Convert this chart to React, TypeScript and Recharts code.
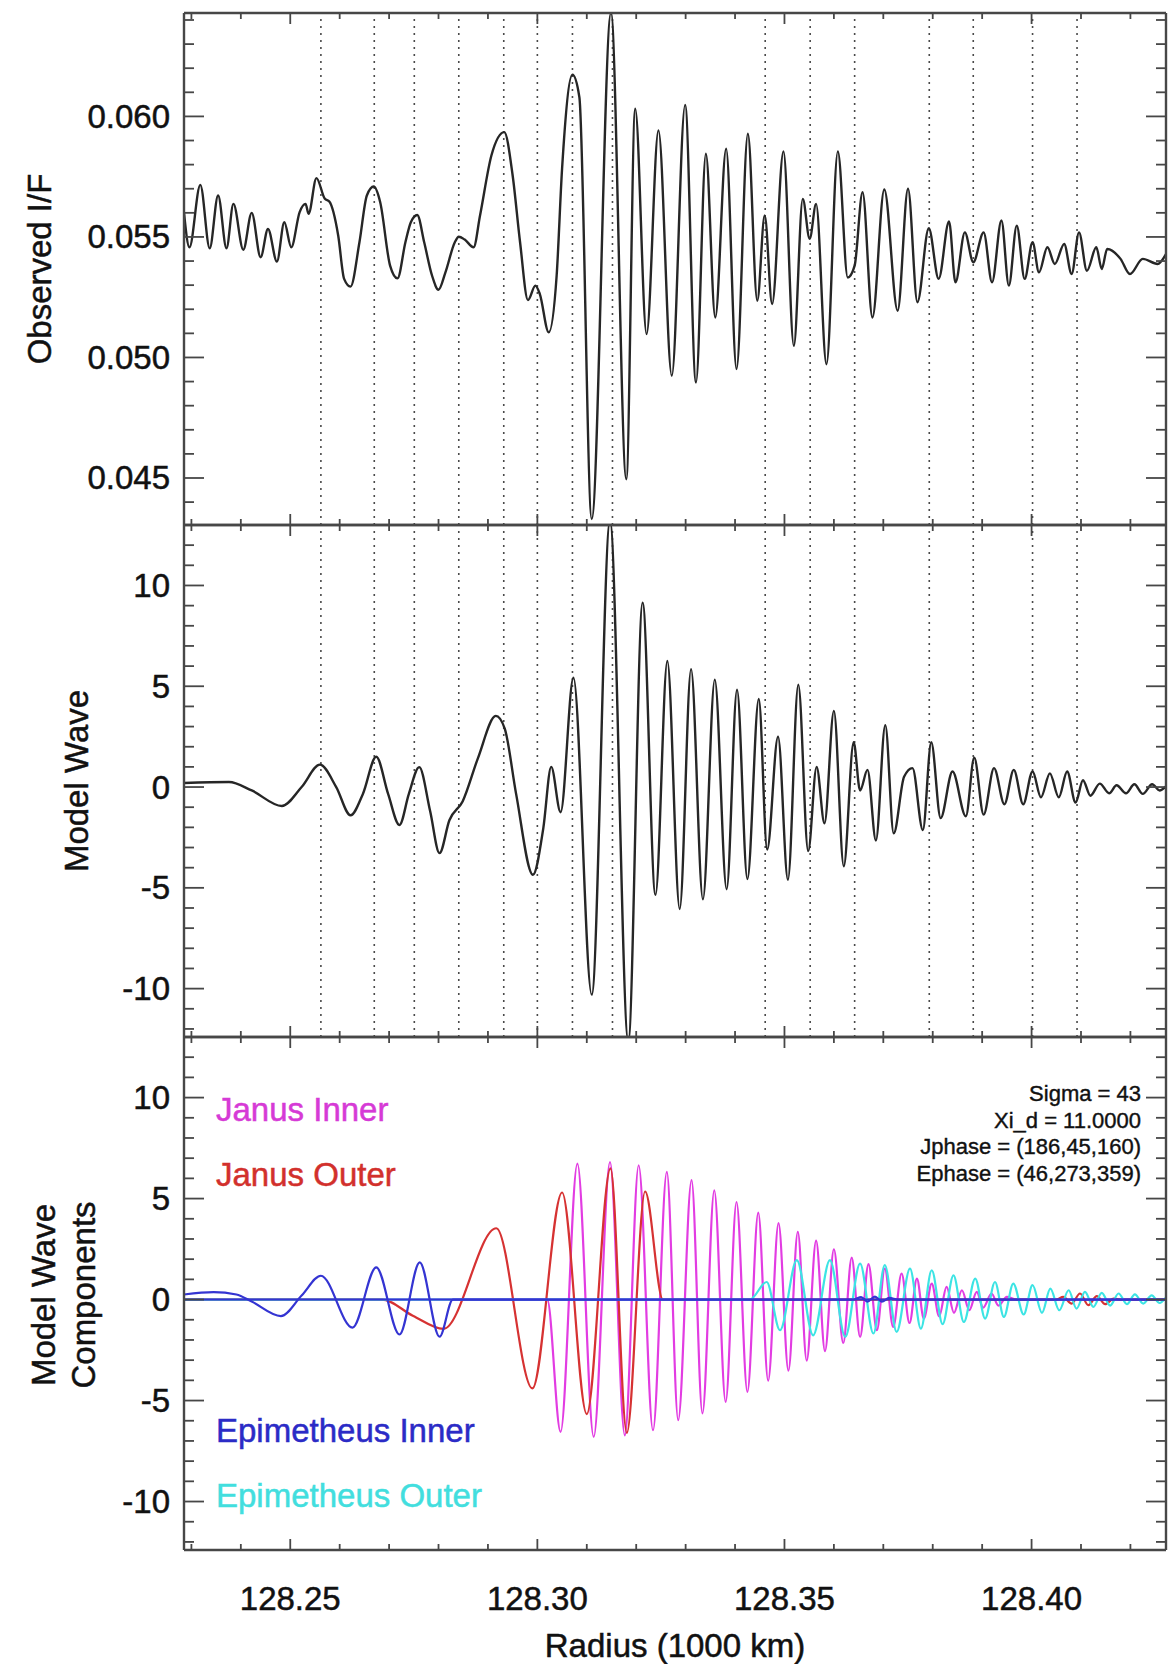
import React from 'react';
import { LineChart, Line, XAxis, YAxis, ReferenceLine } from 'recharts';

type Pt = [number, number];

const W = 1168;
const H = 1664;
const PLOT_LEFT = 184;
const PLOT_RIGHT = 1166;
const FONT = '"Liberation Sans", Arial, Helvetica, sans-serif';
const FRAME = '#474747';

// radius axis (1000 km)
const radiusDomain = [128.2285, 128.4272];
const radiusMajor = [128.25, 128.3, 128.35, 128.4];
const radiusTicks = [
  128.23, 128.24, 128.25, 128.26, 128.27, 128.28, 128.29, 128.3, 128.31, 128.32,
  128.33, 128.34, 128.35, 128.36, 128.37, 128.38, 128.39, 128.4, 128.41, 128.42,
];

// observed I/F axis
const ifDomain = [0.04305, 0.06429];
const ifMajor = [0.045, 0.05, 0.055, 0.06];
const ifTicks = [
  0.044, 0.045, 0.046, 0.047, 0.048, 0.049, 0.05, 0.051, 0.052, 0.053, 0.054,
  0.055, 0.056, 0.057, 0.058, 0.059, 0.06, 0.061, 0.062, 0.063, 0.064,
];

// model wave axes
const waveDomain = [-12.4, 13];
const waveMajor = [-10, -5, 0, 5, 10];
const waveTicks = [
  -12, -11, -10, -9, -8, -7, -6, -5, -4, -3, -2, -1, 0, 1, 2, 3, 4, 5, 6, 7, 8, 9, 10, 11, 12, 13,
];

// dotted guide radii shared by the upper two panels
const guideRadii = [
  128.2562, 128.267, 128.2751, 128.2841, 128.2932, 128.3, 128.3071, 128.3152,
  128.3461, 128.3552, 128.3642, 128.3793, 128.3882, 128.4002, 128.4092,
];

const observedIF: Pt[] = [
  [128.2285, 0.056], [128.2296, 0.05457], [128.2318, 0.05716], [128.2337, 0.05453],
  [128.2354, 0.05672], [128.2371, 0.05453], [128.2385, 0.05637], [128.2405, 0.05447],
  [128.2422, 0.056], [128.244, 0.05416], [128.2455, 0.05533], [128.2473, 0.05398],
  [128.2488, 0.05561], [128.2502, 0.05457], [128.2519, 0.05603], [128.2531, 0.05637],
  [128.2537, 0.05596], [128.2553, 0.05744], [128.257, 0.05658], [128.2579, 0.05647],
  [128.2597, 0.05506], [128.2609, 0.05326], [128.2622, 0.05294], [128.264, 0.05478],
  [128.2655, 0.05672], [128.2669, 0.05709], [128.2682, 0.05644], [128.2702, 0.05381],
  [128.2717, 0.05328], [128.2733, 0.05478], [128.2744, 0.05561], [128.2757, 0.05591],
  [128.2771, 0.05478], [128.2787, 0.05339], [128.28, 0.05281], [128.2814, 0.05353],
  [128.2833, 0.05478], [128.2841, 0.05501], [128.2853, 0.05489], [128.2871, 0.05457],
  [128.2884, 0.05589], [128.2907, 0.05838], [128.2933, 0.05935], [128.295, 0.05755],
  [128.2965, 0.05478], [128.2981, 0.05238], [128.2996, 0.05298], [128.3005, 0.05263],
  [128.3023, 0.05104], [128.3039, 0.05339], [128.305, 0.05783], [128.3071, 0.06173],
  [128.3085, 0.0608], [128.311, 0.0433], [128.3149, 0.0643], [128.318, 0.04495],
  [128.3198, 0.06032], [128.3221, 0.05097], [128.3245, 0.05942], [128.3272, 0.04924],
  [128.3299, 0.06048], [128.3321, 0.04896], [128.3341, 0.05845], [128.336, 0.05166],
  [128.3382, 0.05866], [128.3403, 0.04952], [128.3426, 0.05928], [128.3445, 0.05235],
  [128.346, 0.05589], [128.3475, 0.05222], [128.3498, 0.05855], [128.3519, 0.05048],
  [128.3537, 0.05658], [128.3551, 0.05492], [128.3564, 0.05637], [128.3585, 0.04972],
  [128.3608, 0.05855], [128.3628, 0.05332], [128.3642, 0.05381], [128.3658, 0.05686],
  [128.3678, 0.05166], [128.3702, 0.05697], [128.3729, 0.05194], [128.375, 0.057],
  [128.3769, 0.05229], [128.3792, 0.05536], [128.3812, 0.05326], [128.3833, 0.05564],
  [128.3846, 0.05312], [128.3865, 0.05519], [128.3882, 0.05395], [128.3903, 0.05519],
  [128.392, 0.05312], [128.3939, 0.05568], [128.3954, 0.05298], [128.397, 0.05547],
  [128.3986, 0.05326], [128.4002, 0.05478], [128.4015, 0.05353], [128.4032, 0.05457],
  [128.4047, 0.05388], [128.4066, 0.05471], [128.4081, 0.05346], [128.4096, 0.05519],
  [128.4112, 0.0536], [128.4131, 0.05457], [128.4142, 0.05367], [128.4153, 0.0545],
  [128.418, 0.05409], [128.4199, 0.05346], [128.4225, 0.05409], [128.4255, 0.05388],
  [128.4272, 0.05429],
];

const modelWave: Pt[] = [
  [128.2285, 0.2], [128.2376, 0.25], [128.2422, -0.17], [128.2483, -0.94], [128.2523, 0],
  [128.256, 1.11], [128.2593, 0], [128.2622, -1.4], [128.2647, -0.34], [128.2674, 1.5],
  [128.2698, -0.34], [128.2721, -1.88], [128.274, -0.34], [128.2761, 0.99], [128.2783, -1.19],
  [128.2802, -3.28], [128.2822, -1.65], [128.2849, -0.7], [128.288, 1.45], [128.2916, 3.53],
  [128.2934, 2.9], [128.2957, -0.34], [128.2991, -4.35], [128.3012, -2.05], [128.3028, 1.0],
  [128.3047, -1.25], [128.3073, 5.42], [128.311, -10.3], [128.3147, 13.2], [128.3184, -12.6],
  [128.3213, 9.15], [128.3239, -5.35], [128.3263, 6.25], [128.3288, -6.05], [128.3311, 5.85],
  [128.3335, -5.57], [128.3359, 5.33], [128.3383, -5.07], [128.3404, 4.83], [128.3425, -4.57],
  [128.3448, 4.37], [128.3465, -3.1], [128.3487, 2.5], [128.3507, -4.6], [128.3528, 5.08],
  [128.3548, -3.18], [128.3565, 1.0], [128.3581, -1.8], [128.36, 3.78], [128.362, -3.93],
  [128.364, 2.22], [128.3653, -0.17], [128.3668, 0.85], [128.3685, -2.65], [128.3704, 3.07],
  [128.3721, -2.3], [128.3742, 0.51], [128.3759, 0.94], [128.378, -2.13], [128.3797, 2.22],
  [128.3816, -1.54], [128.384, 0.77], [128.3867, -1.45], [128.3884, 1.45], [128.3903, -1.37],
  [128.3924, 0.94], [128.3945, -0.85], [128.3964, 0.85], [128.3983, -0.85], [128.4002, 0.77],
  [128.4019, -0.51], [128.4037, 0.68], [128.4055, -0.51], [128.4072, 0.77], [128.4089, -0.77],
  [128.4104, 0.34], [128.4119, -0.43], [128.4138, 0.17], [128.4157, -0.31], [128.4172, 0.09],
  [128.4191, -0.31], [128.4208, 0.14], [128.4225, -0.34], [128.4244, 0.14], [128.4259, -0.17],
  [128.4272, 0.03],
];

const janusInner: Pt[] = [
  [128.2285, 0], [128.302, 0], [128.3047, -6.55], [128.3081, 6.73], [128.3114, -6.8],
  [128.3147, 6.81], [128.3177, -6.72], [128.3205, 6.65], [128.3234, -6.47], [128.3262, 6.32],
  [128.3285, -5.97], [128.3312, 5.91], [128.3334, -5.64], [128.3358, 5.41], [128.3381, -5.07],
  [128.3403, 4.83], [128.3425, -4.57], [128.3447, 4.3], [128.3467, -4.02], [128.3488, 3.78],
  [128.3508, -3.52], [128.3527, 3.35], [128.3545, -3.02], [128.3564, 2.92], [128.3582, -2.55],
  [128.36, 2.48], [128.3619, -2.15], [128.3636, 2.08], [128.3653, -1.85], [128.367, 1.75],
  [128.3687, -1.52], [128.3703, 1.53], [128.372, -1.35], [128.3737, 1.29], [128.3753, -1.16],
  [128.3768, 1.04], [128.3782, -0.94], [128.3798, 0.79], [128.3813, -0.83], [128.3828, 0.63],
  [128.3843, -0.66], [128.3859, 0.46], [128.3874, -0.53], [128.3889, 0.38], [128.3902, -0.4],
  [128.3919, 0.3], [128.3933, -0.3], [128.395, 0.13], [128.397, 0], [128.4272, 0],
];

const janusOuter: Pt[] = [
  [128.2285, 0], [128.2686, 0], [128.2748, -0.8], [128.281, -1.45], [128.2917, 3.53],
  [128.299, -4.4], [128.305, 5.3], [128.31, -5.67], [128.3148, 6.5], [128.3181, -6.6],
  [128.3218, 5.35], [128.3254, 0], [128.405, 0], [128.4064, 0.13], [128.4081, -0.2],
  [128.4098, 0.3], [128.4115, -0.28], [128.4132, 0.17], [128.4149, -0.23], [128.4166, 0.05],
  [128.418, 0], [128.4272, 0],
];

const epiInner: Pt[] = [
  [128.2285, 0.25], [128.2345, 0.37], [128.2391, 0.25], [128.2422, -0.1], [128.2481, -0.82],
  [128.2523, 0.2], [128.2562, 1.18], [128.2626, -1.39], [128.2674, 1.59], [128.2721, -1.73],
  [128.2762, 1.84], [128.2802, -1.84], [128.2829, 0], [128.364, 0], [128.3655, 0.12],
  [128.3668, -0.1], [128.3683, 0.15], [128.3697, -0.1], [128.3712, 0.08], [128.373, 0],
  [128.4272, 0],
];

const epiOuter: Pt[] = [
  [128.2285, 0], [128.343, 0], [128.3464, 0.87], [128.3491, -1.52], [128.3525, 1.95],
  [128.3558, -1.77], [128.3592, 1.95], [128.3623, -1.85], [128.3653, 1.78], [128.368, -1.68],
  [128.3703, 1.7], [128.3727, -1.6], [128.3754, 1.53], [128.3776, -1.44], [128.3798, 1.45],
  [128.382, -1.22], [128.3842, 1.2], [128.3863, -1.11], [128.3886, 1.04], [128.3906, -0.94],
  [128.3926, 0.87], [128.3944, -0.86], [128.3963, 0.79], [128.3984, -0.74], [128.4002, 0.71],
  [128.4021, -0.66], [128.4038, 0.54], [128.4056, -0.53], [128.4075, 0.46], [128.4091, -0.45],
  [128.4108, 0.38], [128.4125, -0.36], [128.4142, 0.33], [128.4159, -0.3], [128.4176, 0.3],
  [128.4193, -0.23], [128.4209, 0.26], [128.4226, -0.2], [128.4243, 0.21], [128.4259, -0.17],
  [128.4274, 0.18],
];

const rows = (pts: Pt[]) => pts.map(([x, y]) => ({ x, y }));
const inList = (list: number[], v: number) => list.some((m) => Math.abs(m - v) < 1e-9);

interface Series {
  data: Pt[];
  color: string;
  width: number;
}

interface PanelProps {
  top: number;
  bottom: number;
  yDomain: number[];
  yTicks: number[];
  yMajor: number[];
  yFmt: (v: number) => string;
  xLabels?: boolean;
  guides?: boolean;
  zeroLine?: string;
  series: Series[];
}

// axes need a non-zero size to be drawn, so each one takes 1px outside the plot
const AX = 1;

// svg text a little heavier, like the original print
const svgText = { fontSize: 33, fontFamily: FONT, fill: '#111', stroke: '#111', strokeWidth: 0.5 };

const Panel = ({ top, bottom, yDomain, yTicks, yMajor, yFmt, xLabels, guides, zeroLine, series }: PanelProps) => {
  // IDL style frame: ticks drawn inward from all four sides
  const leftTick = (p: any) => {
    const major = inList(yMajor, p.payload.value);
    return (
      <g>
        <line x1={p.x} y1={p.y} x2={p.x + (major ? 20 : 10)} y2={p.y} stroke={FRAME} strokeWidth={1.8} />
        {major && (
          <text x={p.x - 14} y={p.y} textAnchor="end" dominantBaseline="central" {...svgText}>
            {yFmt(p.payload.value)}
          </text>
        )}
      </g>
    );
  };
  const rightTick = (p: any) => {
    const major = inList(yMajor, p.payload.value);
    return <line x1={p.x} y1={p.y} x2={p.x - (major ? 20 : 10)} y2={p.y} stroke={FRAME} strokeWidth={1.8} />;
  };
  const topTick = (p: any) => {
    const major = inList(radiusMajor, p.payload.value);
    return <line x1={p.x} y1={p.y} x2={p.x} y2={p.y + (major ? 11 : 6)} stroke={FRAME} strokeWidth={1.8} />;
  };
  const bottomTick = (p: any) => {
    const major = inList(radiusMajor, p.payload.value);
    return (
      <g>
        <line x1={p.x} y1={p.y} x2={p.x} y2={p.y - (major ? 11 : 6)} stroke={FRAME} strokeWidth={1.8} />
        {xLabels && major && (
          <text x={p.x} y={p.y + 48} textAnchor="middle" dominantBaseline="central" {...svgText}>
            {p.payload.value.toFixed(2)}
          </text>
        )}
      </g>
    );
  };

  const common = {
    allowDataOverflow: true,
    interval: 0 as const,
    tickSize: 0,
    tickMargin: 0,
    tickLine: false,
    axisLine: { stroke: FRAME, strokeWidth: 2.4 },
  };

  return (
    <div style={{ position: 'absolute', left: 0, top: 0 }}>
      <LineChart
        width={W}
        height={H}
        margin={{ top: top - AX, bottom: H - bottom - AX, left: PLOT_LEFT - AX, right: W - PLOT_RIGHT - AX }}
      >
        <XAxis {...common} dataKey="x" type="number" domain={radiusDomain} ticks={radiusTicks} height={AX} tick={bottomTick} />
        <XAxis
          {...common}
          xAxisId="top"
          orientation="top"
          dataKey="x"
          type="number"
          domain={radiusDomain}
          ticks={radiusTicks}
          height={AX}
          tick={topTick}
        />
        <YAxis {...common} type="number" domain={yDomain} ticks={yTicks} width={AX} tick={leftTick} />
        <YAxis
          {...common}
          yAxisId="right"
          orientation="right"
          type="number"
          domain={yDomain}
          ticks={yTicks}
          width={AX}
          tick={rightTick}
        />
        {guides &&
          guideRadii.map((r) => (
            <ReferenceLine key={r} x={r} stroke="#4a4a4a" strokeWidth={1.6} strokeDasharray="2 5" />
          ))}
        {series.map((s, i) => (
          <Line
            key={i}
            data={rows(s.data)}
            dataKey="y"
            type="monotone"
            stroke={s.color}
            strokeWidth={s.width}
            dot={false}
            activeDot={false}
            isAnimationActive={false}
          />
        ))}
        {zeroLine && <ReferenceLine y={0} stroke={zeroLine} strokeWidth={2} />}
        <Line
          xAxisId="top"
          yAxisId="right"
          data={rows(series[0].data)}
          dataKey="y"
          stroke="none"
          dot={false}
          activeDot={false}
          isAnimationActive={false}
        />
      </LineChart>
    </div>
  );
};

const textStyle: React.CSSProperties = {
  position: 'absolute',
  fontFamily: FONT,
  fontSize: 33,
  color: '#111',
  whiteSpace: 'nowrap',
  WebkitTextStroke: '0.5px currentColor',
};

const yTitle = (cx: number, cy: number, lines: string[]) => (
  <div
    style={{
      ...textStyle,
      left: cx,
      top: cy,
      lineHeight: '40px',
      textAlign: 'center',
      transform: 'translate(-50%, -50%) rotate(-90deg)',
    }}
  >
    {lines.map((l) => (
      <div key={l}>{l}</div>
    ))}
  </div>
);

export default function App() {
  return (
    <div style={{ position: 'absolute', left: 0, top: 0, width: W, height: H, background: '#fff', overflow: 'hidden' }}>
      <Panel
        top={13}
        bottom={525}
        yDomain={ifDomain}
        yTicks={ifTicks}
        yMajor={ifMajor}
        yFmt={(v) => v.toFixed(3)}
        guides
        series={[{ data: observedIF, color: '#262626', width: 2.4 }]}
      />
      <Panel
        top={525}
        bottom={1037}
        yDomain={waveDomain}
        yTicks={waveTicks}
        yMajor={waveMajor}
        yFmt={(v) => String(v)}
        guides
        series={[{ data: modelWave, color: '#262626', width: 2.4 }]}
      />
      <Panel
        top={1037}
        bottom={1550}
        yDomain={waveDomain}
        yTicks={waveTicks}
        yMajor={waveMajor}
        yFmt={(v) => String(v)}
        xLabels
        zeroLine="#3434d2"
        series={[
          { data: janusInner, color: '#e23ce2', width: 2.2 },
          { data: janusOuter, color: '#d63232', width: 2.2 },
          { data: epiOuter, color: '#3ce4e4', width: 2.2 },
          { data: epiInner, color: '#3434d2', width: 2.2 },
        ]}
      />

      {yTitle(40, 269, ['Observed I/F'])}
      {yTitle(77, 781, ['Model Wave'])}
      {yTitle(64, 1295, ['Model Wave', 'Components'])}

      <div style={{ ...textStyle, left: 675, top: 1646, transform: 'translate(-50%, -50%)' }}>Radius (1000 km)</div>

      <div style={{ ...textStyle, left: 216, top: 1092, lineHeight: '36px', color: '#d63ad6' }}>Janus Inner</div>
      <div style={{ ...textStyle, left: 216, top: 1157, lineHeight: '36px', color: '#d2302c' }}>Janus Outer</div>
      <div style={{ ...textStyle, left: 216, top: 1413, lineHeight: '36px', color: '#2b2bc6' }}>Epimetheus Inner</div>
      <div style={{ ...textStyle, left: 216, top: 1478, lineHeight: '36px', color: '#42dede' }}>Epimetheus Outer</div>

      <div
        style={{
          ...textStyle,
          right: W - 1141,
          top: 1081,
          fontSize: 22,
          lineHeight: '26.5px',
          textAlign: 'right',
          WebkitTextStroke: '0.4px currentColor',
        }}
      >
        <div>Sigma = 43</div>
        <div>Xi_d = 11.0000</div>
        <div>Jphase = (186,45,160)</div>
        <div>Ephase = (46,273,359)</div>
      </div>
    </div>
  );
}
